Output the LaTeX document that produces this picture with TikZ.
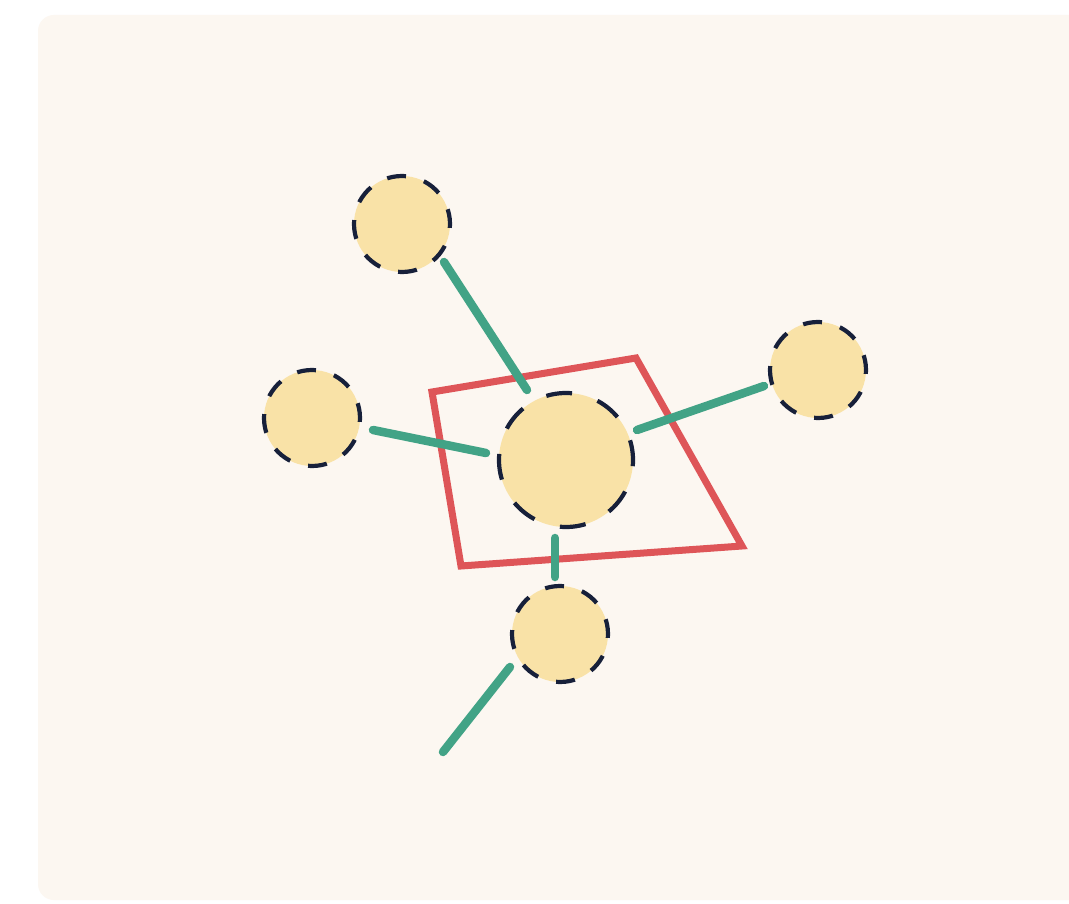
\documentclass[tikz,border=0pt]{standalone}
\usetikzlibrary{calc}
\definecolor{panel}{HTML}{FCF7F1}
\definecolor{sun}{HTML}{F9E2A7}
\definecolor{navy}{HTML}{17203A}
\definecolor{leaf}{HTML}{42A386}
\definecolor{brick}{HTML}{DE5558}
\begin{document}
\begin{tikzpicture}[x=1pt,y=-1pt,
  smallnode/.style={circle,fill=sun,draw=navy,line width=4.2pt,minimum size=96pt,inner sep=0pt,dash pattern=on 19pt off 18.7pt,dash phase=4pt},
  bignode/.style={circle,fill=sun,draw=navy,line width=4.2pt,minimum size=134pt,inner sep=0pt,dash pattern=on 26pt off 26.6pt,dash phase=6pt},
  link/.style={draw=leaf,line width=8.5pt,line cap=round},
  frame/.style={draw=brick,line width=7pt,line join=miter}]
\useasboundingbox (0,0) rectangle (1069,904);
\clip (0,0) rectangle (1069,904);
\fill[white] (0,0) rectangle (1069,904);
\fill[panel,rounded corners=16pt] (38,15) rectangle (1100,900);
% red quadrilateral (drawn under circles)
\coordinate (q1) at (432,392);
\coordinate (q2) at (636,358);
\coordinate (q3) at (742,546);
\coordinate (q4) at (461,566);
\draw[frame] (q1) -- (q2) -- (q3) -- (q4) -- cycle;
% nodes
\node[bignode] (c) at (566,460) {};
\node[smallnode] (tl) at (402,224) {};
\node[smallnode] (l) at (312,418) {};
\node[smallnode] (r) at (818,370) {};
\node[smallnode] (b) at (560,634) {};
\coordinate (tail) at (443,752);
% connectors
\draw[link] ($(tl)+(42,38)$) -- ($(c)+(-39,-70)$);
\draw[link] ($(l)+(61,12)$) -- ($(c)+(-80,-7)$);
\draw[link] ($(c)+(71,-30)$) -- ($(r)+(-54,16)$);
\draw[link] ($(c)+(-11,78)$) -- ($(b)+(-5,-57)$);
\draw[link] ($(b)+(-50,33)$) -- (tail);
\end{tikzpicture}
\end{document}
